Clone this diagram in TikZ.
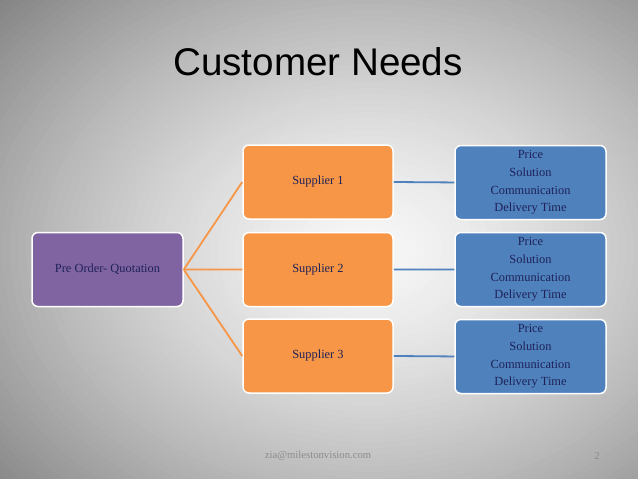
\documentclass[tikz,border=0pt]{standalone}
\usepackage{fontspec}
\setmainfont{Liberation Serif}
\newfontfamily\titlefont{Liberation Sans}
\definecolor{purp}{HTML}{8064A2}
\definecolor{orng}{HTML}{F79646}
\definecolor{blu}{HTML}{4F81BD}
\definecolor{navy}{HTML}{1E2258}
\definecolor{foot}{HTML}{8C8C8C}
\begin{document}
\begin{tikzpicture}[x=1pt,y=-1pt,
  box/.style={rounded corners=6pt, draw=white, line width=1.5pt, minimum height=74pt, inner sep=0pt, align=center, text=navy, font=\fontsize{12.4}{17.6}\selectfont},
  pbox/.style={box, fill=purp, minimum width=151pt},
  obox/.style={box, fill=orng, minimum width=150pt},
  bbox/.style={box, fill=blu, minimum width=151pt},
  oline/.style={draw=orng, line width=1.8pt},
  bline/.style={draw=blu, line width=1.8pt},
  foottext/.style={text=foot, font=\fontsize{10.7}{12}\selectfont, inner sep=0pt}]
\useasboundingbox (0,0) rectangle (638,479);
\begin{scope}
\clip (0,0) rectangle (638,479);
\foreach \i in {66,...,1}{
  \pgfmathsetmacro\lv{97-33*(\i/50)^1.4}
  \fill[white!\lv!black] (370,250) ellipse [x radius={8*\i}, y radius={6*\i}];
}
\end{scope}
\node[font=\titlefont\fontsize{38.6}{40}\selectfont, anchor=base, inner sep=0pt] (title) at (318,75) {Customer Needs};
\node[pbox] (pre) at (107.5,269.5) {Pre Order- Quotation};
\node[obox] (s1) at (318,182) {Supplier 1};
\node[obox] (s2) at (318,269.5) {Supplier 2};
\node[obox] (s3) at (318,356) {Supplier 3};
\node[bbox] (b1) at (530.5,182.5) {Price\\Solution\\Communication\\Delivery Time};
\node[bbox] (b2) at (530.5,269.5) {Price\\Solution\\Communication\\Delivery Time};
\node[bbox] (b3) at (530.5,356.5) {Price\\Solution\\Communication\\Delivery Time};
\draw[oline] (pre.east) -- (s1.west);
\draw[oline] (pre.east) -- ([yshift=0.05pt]s2.west);
\draw[oline] (pre.east) -- (s3.west);
\draw[bline] (s1.east) -- ([yshift=0.05pt]b1.west);
\draw[bline] (s2.east) -- ([yshift=0.05pt]b2.west);
\draw[bline] (s3.east) -- ([yshift=0.05pt]b3.west);
\node[foottext] (mail) at (318,456) {zia@milestonvision.com};
\node[foottext] (page) at (597,456) {2};
\end{tikzpicture}
\end{document}
